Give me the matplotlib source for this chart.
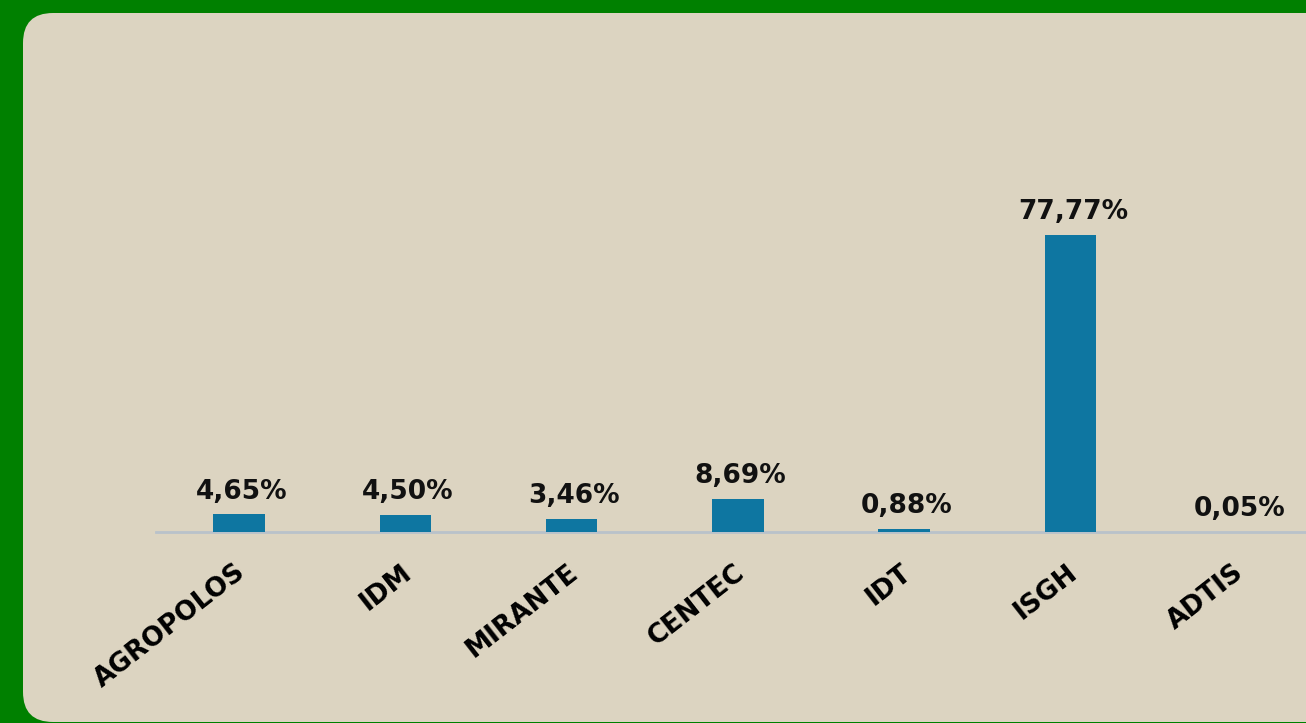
import matplotlib
matplotlib.use("Agg")
import matplotlib.pyplot as plt
import matplotlib.transforms as mtrans
from matplotlib.patches import FancyBboxPatch

categories = ["AGROPOLOS", "IDM", "MIRANTE", "CENTEC", "IDT", "ISGH", "ADTIS"]
values = [4.65, 4.50, 3.46, 8.69, 0.88, 77.77, 0.05]
value_labels = ["4,65%", "4,50%", "3,46%", "8,69%", "0,88%", "77,77%", "0,05%"]

W, H = 1306, 723
fig = plt.figure(figsize=(W / 100, H / 100), dpi=100, facecolor="#008000")

panel = FancyBboxPatch((23 + 30, 1 + 30), 1400, 709 - 60,
                       boxstyle="round,pad=30,rounding_size=30",
                       transform=None, facecolor="#DCD4C1", edgecolor="none",
                       zorder=-10)
fig.patches.append(panel)

spacing = 166.3
x0 = 239 - spacing / 2
base_y = 532
ppu = 297 / 77.77
ymax = 120
ax = fig.add_axes([x0 / W, (H - base_y) / H, spacing * 7 / W, ymax * ppu / H])
ax.set_zorder(5)
ax.set_facecolor("none")
x = list(range(len(categories)))
bars = ax.bar(x, values, width=0.31, color="#0E76A1", zorder=3)
ax.set_xlim(-0.5, len(categories) - 0.5)
ax.set_ylim(0, ymax)
for s in ["top", "right", "left"]:
    ax.spines[s].set_visible(False)
ax.spines["bottom"].set_color("#B9C2CA")
ax.spines["bottom"].set_linewidth(2)
ax.set_yticks([])
ax.set_xticks(x)
ax.tick_params(axis="x", length=0, pad=27)
labels = ax.set_xticklabels(categories, rotation=38, ha="right", va="center",
                            rotation_mode="anchor", fontsize=19, fontweight="bold",
                            family="DejaVu Sans")
shift = mtrans.ScaledTranslation(4 / 100, 0, fig.dpi_scale_trans)
for lab in labels:
    lab.set_transform(lab.get_transform() + shift)
for xi, v, lab in zip(x, values, value_labels):
    ax.annotate(lab, (xi, v), xytext=(2, 7), textcoords="offset points",
                ha="center", va="bottom", fontsize=19, fontweight="bold",
                family="DejaVu Sans", color="#111111")

fig.savefig("out.png", dpi=100, facecolor=fig.get_facecolor())
